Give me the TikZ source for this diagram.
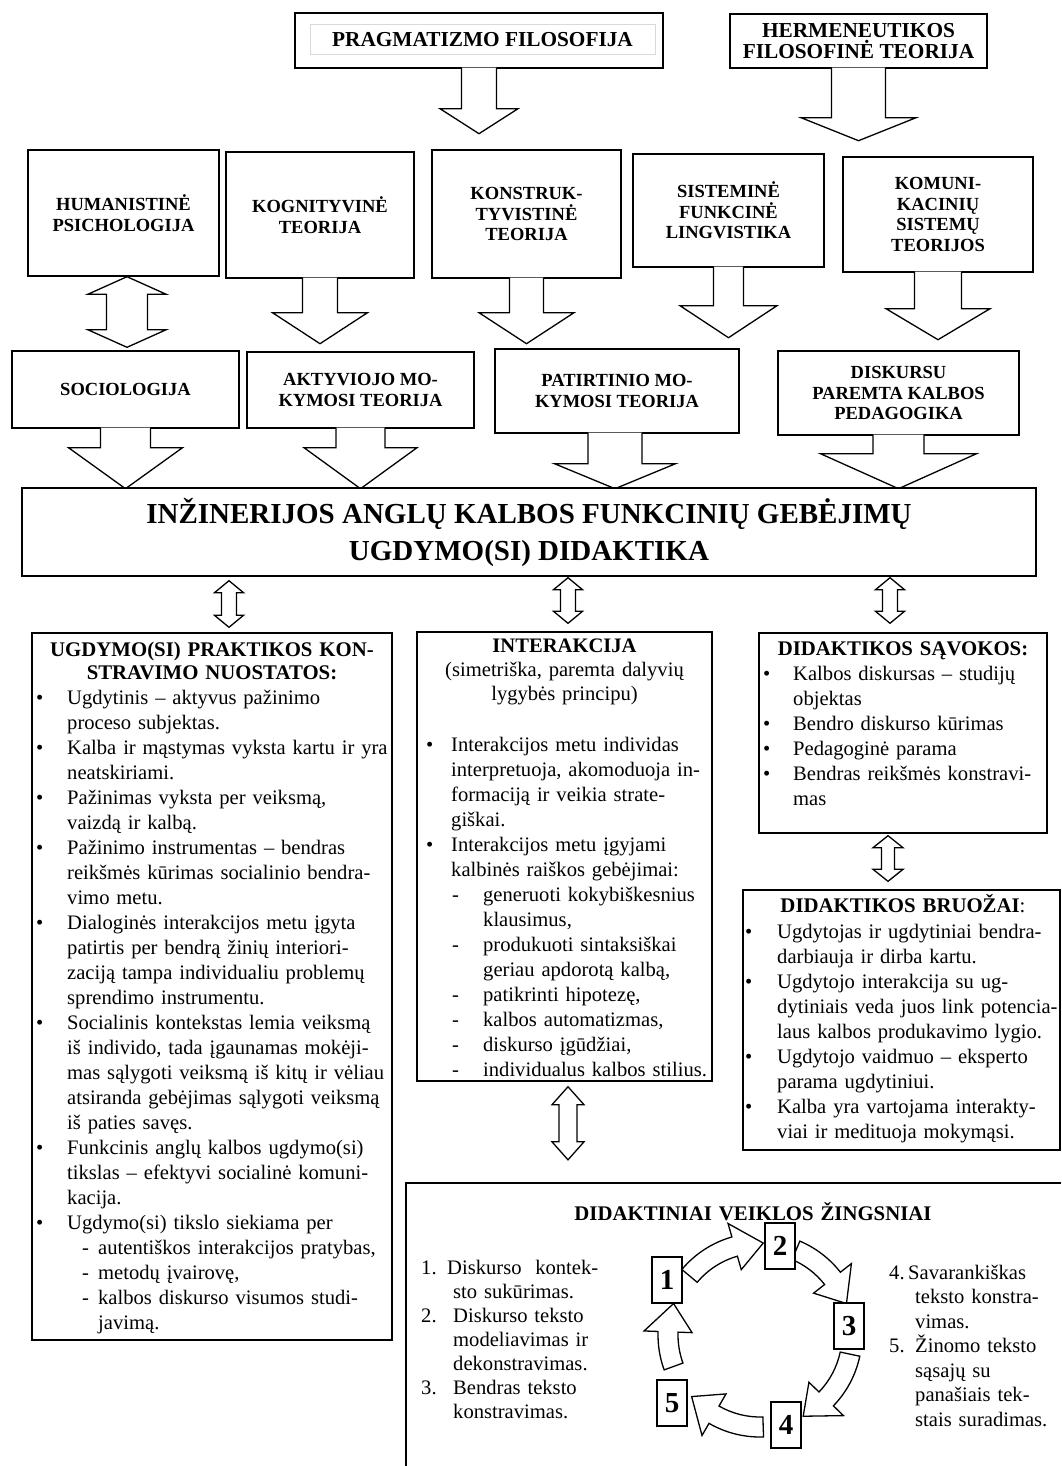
\documentclass[tikz,border=0pt]{standalone}
\usepackage{fontspec}
\setmainfont{Liberation Serif}
\usetikzlibrary{calc,positioning}
\tikzset{
boxstyle/.style={rectangle, draw, line width=1.4pt, fill=white, inner sep=0pt},
toplabel/.style={font=\fontsize{18.5}{20.5}\selectfont\bfseries, align=center},
arrowline/.style={draw, line width=1.3pt, fill=white, line join=miter},
bodytext/.style={font=\fontsize{20.6}{25}\selectfont, inner sep=0pt},
headtext/.style={font=\fontsize{20.8}{23}\selectfont\bfseries, align=center, inner sep=0pt},
numbox/.style={rectangle, draw, line width=1.4pt, fill=white, minimum width=30pt, minimum height=46pt, inner sep=0pt, font=\fontsize{29}{30}\selectfont\bfseries}
}
% list item: label, label width, hanging indent, text
\newcommand{\litem}[4]{\hangindent=#3pt\hangafter=1\noindent\makebox[#2pt][l]{#1}{\def\\{\unskip\hfil\break}#4}\par}
\newcommand{\bitem}[2]{\litem{\textbullet}{#1}{#1}{#2}}
\newcommand{\ditem}[3]{\litem{\hspace*{#1pt}-}{#2}{#2}{#3}}
% box with a block arrow hanging below it
\newcommand{\callout}[6]{
  \path[arrowline] ([xshift={(#2-#3)*1pt}, yshift=1pt]#1.south) -- ++(0,{#5+1}) -- ++({#3-#4},0) -- ++(#4,#6) -- ++(#4,-#6) -- ++({#3-#4},0) -- ++(0,{-#5-1});
}
% up-down block arrow between two boxes
\newcommand{\dblarrow}[8]{
  \path[arrowline] let \p1=(#2.south), \p2=(#3.north) in
    (#1pt,{\y1-#4pt}) -- ({#1pt+#7pt},{\y1-#4pt-#8pt}) -- ({#1pt+#6pt},{\y1-#4pt-#8pt})
    -- ({#1pt+#6pt},{\y2+#5pt+#8pt}) -- ({#1pt+#7pt},{\y2+#5pt+#8pt}) -- (#1pt,{\y2+#5pt})
    -- ({#1pt-#7pt},{\y2+#5pt+#8pt}) -- ({#1pt-#6pt},{\y2+#5pt+#8pt})
    -- ({#1pt-#6pt},{\y1-#4pt-#8pt}) -- ({#1pt-#7pt},{\y1-#4pt-#8pt}) -- cycle;
}
% curved block arrow round the ring
\newcommand{\cycarrow}[2]{
  \path[arrowline] ([shift={(#1:102)}]ring) arc[start angle=#1, end angle={#2-18}, radius=102]
    -- ([shift={({#2-18}:116)}]ring) -- ([shift={(#2:92)}]ring) -- ([shift={({#2-18}:68)}]ring)
    -- ([shift={({#2-18}:82)}]ring) arc[start angle={#2-18}, end angle=#1, radius=82] -- cycle;
}
\begin{document}
\begin{tikzpicture}[x=1pt, y=-1pt]
\path[use as bounding box, fill=white] (0,0) rectangle (1061,1466);

\node [boxstyle, minimum width=368pt, minimum height=55pt] (prag) at (479, 40.5) {};
\node [draw=gray!30, line width=1pt, minimum width=345pt, minimum height=30pt, inner sep=0pt, font=\fontsize{21.3}{23}\selectfont\bfseries] (pragText) at (482.5, 40) {PRAGMATIZMO FILOSOFIJA};
\callout{prag}{0}{17.5}{39}{40}{25}
\node [boxstyle, minimum width=257pt, minimum height=54pt, font=\fontsize{21.3}{21}\selectfont\bfseries, align=center] (herm) at (858.5, 41) {HERMENEUTIKOS\\FILOSOFINĖ TEORIJA};
\callout{herm}{0}{27}{57.5}{49}{23}

\node [boxstyle, toplabel, minimum width=191pt, minimum height=126pt] (hum) at (123.5, 213) {HUMANISTINĖ\\PSICHOLOGIJA};
\node [boxstyle, toplabel, minimum width=188pt, minimum height=126pt] (kog) at (320, 215) {KOGNITYVINĖ\\TEORIJA};
\node [boxstyle, toplabel, minimum width=189pt, minimum height=128pt] (kon) at (526.5, 214) {KONSTRUK-\\TYVISTINĖ\\TEORIJA};
\node [boxstyle, toplabel, minimum width=191pt, minimum height=113pt] (sis) at (728.5, 210.5) {SISTEMINĖ\\FUNKCINĖ\\LINGVISTIKA};
\node [boxstyle, toplabel, minimum width=190pt, minimum height=115pt] (kom) at (938, 214.5) {KOMUNI-\\KACINIŲ\\SISTEMŲ\\TEORIJOS};
\callout{kog}{0}{17.5}{47.5}{34}{31}
\callout{kon}{0}{17}{47.5}{34}{31}
\callout{sis}{0}{15}{48.5}{38}{32}
\callout{kom}{0}{23.5}{52}{36}{31}

\node [boxstyle, toplabel, minimum width=227pt, minimum height=77pt] (soc) at (125.5, 389.5) {SOCIOLOGIJA};
\node [boxstyle, toplabel, minimum width=227pt, minimum height=76pt] (akt) at (360.5, 390) {AKTYVIOJO MO-\\KYMOSI TEORIJA};
\node [boxstyle, toplabel, minimum width=244pt, minimum height=84pt] (pat) at (617, 391) {PATIRTINIO MO-\\KYMOSI TEORIJA};
\node [boxstyle, toplabel, minimum width=241pt, minimum height=84pt] (dis) at (898.5, 393) {DISKURSU\\PAREMTA KALBOS\\PEDAGOGIKA};
\dblarrow{127}{hum}{soc}{0}{3}{20.5}{39}{17.5}
\callout{soc}{0}{25}{57}{19}{41}
\callout{akt}{0}{24.5}{56.5}{19}{41}
\callout{pat}{-2}{27}{60.5}{30}{25}
\callout{dis}{0}{25.5}{78}{18}{35}

\node [boxstyle, minimum width=1014pt, minimum height=88pt, font=\fontsize{29}{37}\selectfont\bfseries, align=center] (main) at (529, 532) {INŽINERIJOS ANGLŲ KALBOS FUNKCINIŲ GEBĖJIMŲ\\UGDYMO(SI) DIDAKTIKA};

\node [boxstyle, minimum width=360pt, minimum height=707pt] (prak) at (212, 986.5) {};
\node [boxstyle, minimum width=295pt, minimum height=449pt] (inter) at (564.5, 856.5) {};
\node [boxstyle, minimum width=288pt, minimum height=200pt] (sav) at (903, 733) {};
\node [boxstyle, minimum width=317pt, minimum height=260pt] (bru) at (901.5, 1020) {};
\node [minimum width=655pt, minimum height=283pt, inner sep=0pt] (zing) at (733.5, 1324.5) {};
\draw [line width=1.4pt] (zing.south west) |- (zing.north east);

\dblarrow{229}{main}{prak}{4}{5}{7.5}{14.5}{12}
\dblarrow{568}{main}{inter}{1}{8}{7.5}{14.5}{12}
\dblarrow{890}{main}{sav}{1}{9}{7.5}{14.5}{12}
\dblarrow{888}{sav}{bru}{2}{8}{6.5}{15}{12}
\dblarrow{568}{inter}{zing}{5}{23}{9}{16}{18}

\node [headtext, text width=356pt, anchor=base] (prakHead) at (212, 656) {UGDYMO(SI) PRAKTIKOS KON-\\STRAVIMO NUOSTATOS:};
\node [bodytext, text width=390pt, anchor=base west] (prakBody) at (36, 704) {\raggedright
\bitem{31}{Ugdytinis – aktyvus pažinimo\\proceso subjektas.}%
\bitem{31}{Kalba ir mąstymas vyksta kartu ir yra\\neatskiriami.}%
\bitem{31}{Pažinimas vyksta per veiksmą,\\vaizdą ir kalbą.}%
\bitem{31}{Pažinimo instrumentas – bendras\\reikšmės kūrimas socialinio bendra-\\vimo metu.}%
\bitem{31}{Dialoginės interakcijos metu įgyta\\patirtis per bendrą žinių interiori-\\zaciją tampa individualiu problemų\\sprendimo instrumentu.}%
\bitem{31}{Socialinis kontekstas lemia veiksmą\\iš individo, tada įgaunamas mokėji-\\mas sąlygoti veiksmą iš kitų ir vėliau\\atsiranda gebėjimas sąlygoti veiksmą\\iš paties savęs.}%
\bitem{31}{Funkcinis anglų kalbos ugdymo(si)\\tikslas – efektyvi socialinė komuni-\\kacija.}%
\bitem{31}{Ugdymo(si) tikslo siekiama per}%
\ditem{46}{62}{autentiškos interakcijos pratybas,}%
\ditem{46}{62}{metodų įvairovę,}%
\ditem{46}{62}{kalbos diskurso visumos studi-\\javimą.}};

\node [headtext, text width=290pt, anchor=base, font=\fontsize{20.6}{24}\selectfont] (interHead) at (564.5, 652) {{\bfseries INTERAKCIJA}\\(simetriška, paremta dalyvių\\lygybės principu)};
\node [bodytext, text width=320pt, anchor=base west] (interBody) at (426, 751) {\raggedright
\bitem{25}{Interakcijos metu individas\\interpretuoja, akomoduoja in-\\formaciją ir veikia strate-\\giškai.}%
\bitem{25}{Interakcijos metu įgyjami\\kalbinės raiškos gebėjimai:}%
\ditem{26}{57}{generuoti kokybiškesnius\\klausimus,}%
\ditem{26}{57}{produkuoti sintaksiškai\\geriau apdorotą kalbą,}%
\ditem{26}{57}{patikrinti hipotezę,}%
\ditem{26}{57}{kalbos automatizmas,}%
\ditem{26}{57}{diskurso įgūdžiai,}%
\ditem{26}{57}{individualus kalbos stilius.}};

\node [headtext, text width=280pt, anchor=base] (savHead) at (903, 655) {DIDAKTIKOS SĄVOKOS:};
\node [bodytext, text width=300pt, anchor=base west] (savBody) at (763, 680) {\raggedright
\bitem{30}{Kalbos diskursas – studijų\\objektas}%
\bitem{30}{Bendro diskurso kūrimas}%
\bitem{30}{Pedagoginė parama}%
\bitem{30}{Bendras reikšmės konstravi-\\mas}};

\node [headtext, text width=300pt, anchor=base] (bruHead) at (903, 912) {DIDAKTIKOS BRUOŽAI{\mdseries :}};
\node [bodytext, text width=340pt, anchor=base west] (bruBody) at (745, 938) {\raggedright
\bitem{32}{Ugdytojas ir ugdytiniai bendra-\\darbiauja ir dirba kartu.}%
\bitem{32}{Ugdytojo interakcija su ug-\\dytiniais veda juos link potencia-\\laus kalbos produkavimo lygio.}%
\bitem{32}{Ugdytojo vaidmuo – eksperto\\parama ugdytiniui.}%
\bitem{32}{Kalba yra vartojama interakty-\\viai ir medituoja mokymąsi.}};

\node [headtext, text width=600pt, anchor=base] (zingHead) at (753, 1220) {DIDAKTINIAI VEIKLOS ŽINGSNIAI};
\node [bodytext, text width=240pt, anchor=base west, font=\fontsize{20.6}{24}\selectfont] (zingLeft) at (421, 1274) {\raggedright
\litem{1.}{26}{32}{Diskurso\ \ kontek-\\sto sukūrimas.}%
\litem{2.}{32}{32}{Diskurso teksto\\modeliavimas ir\\dekonstravimas.}%
\litem{3.}{32}{32}{Bendras teksto\\konstravimas.}};
\node [bodytext, text width=180pt, anchor=base west, font=\fontsize{20.6}{24.5}\selectfont] (zingRight) at (889, 1279) {\raggedright
\litem{4.}{19}{26}{Savarankiškas\\teksto konstra-\\vimas.}%
\litem{5.}{26}{26}{Žinomo teksto\\sąsajų su\\panašiais tek-\\stais suradimas.}};

\coordinate (ring) at (760, 1335);
\cycarrow{220}{272}
\cycarrow{293}{340}
\cycarrow{12}{62}
\cycarrow{88}{138}
\cycarrow{160}{200}
\node [numbox] (n1) at (667, 1280) {1};
\node [numbox] (n2) at (780, 1246) {2};
\node [numbox] (n3) at (849, 1326) {3};
\node [numbox] (n4) at (786, 1425) {4};
\node [numbox] (n5) at (672, 1403) {5};
\end{tikzpicture}
\end{document}
